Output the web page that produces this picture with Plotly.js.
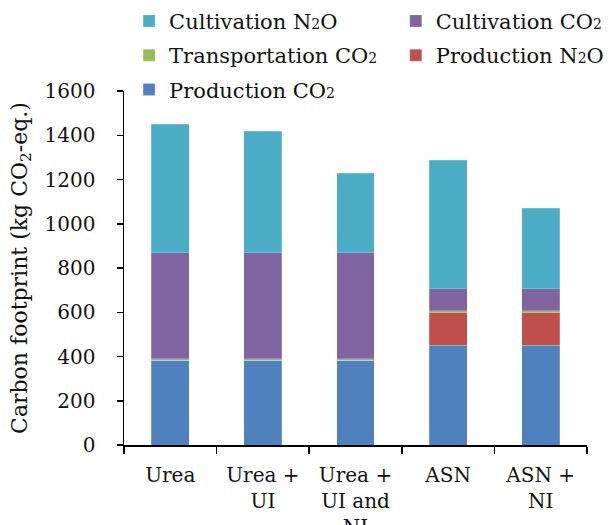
<!DOCTYPE html>
<html>
<head>
<meta charset="utf-8">
<script src="https://cdn.plot.ly/plotly-3.0.1.min.js"></script>
<style>html,body{margin:0;padding:0;background:#fff;}#chart{width:613px;height:525px;}</style>
</head>
<body>
<div id="chart"></div>
<script>
const categories = ["Urea", "Urea +<br>UI", "Urea +<br>UI and<br>NI", "ASN", "ASN +<br>NI"];
const productionCO2 = [382, 382, 382, 450, 450];
const productionN2O = [0, 0, 0, 148, 148];
const transportationCO2 = [8, 8, 8, 8, 8];
const cultivationCO2 = [478, 478, 478, 100, 100];
const cultivationN2O = [582, 551, 361, 582, 365];
const yTicks = [0, 200, 400, 600, 800, 1000, 1200, 1400, 1600];

const sub2 = '<span style="font-size:14px">2</span>';
const FONT = "DejaVu Serif";
const edge = {color: "rgba(255,255,255,0.35)", width: 0.6};

// stack order bottom -> top; rank = legend order (left column / right column)
const series = [
  {name: "Production CO" + sub2, y: productionCO2, color: "#4F81BD", legend: "legend", rank: 3},
  {name: "Production N" + sub2 + "O", y: productionN2O, color: "#C0504D", legend: "legend2", rank: 2},
  {name: "Transportation CO" + sub2, y: transportationCO2, color: "#9BBB59", legend: "legend", rank: 2},
  {name: "Cultivation CO" + sub2, y: cultivationCO2, color: "#8064A2", legend: "legend2", rank: 1},
  {name: "Cultivation N" + sub2 + "O", y: cultivationN2O, color: "#4BACC6", legend: "legend", rank: 1}
];

const data = series.map((s, i) => ({
  type: "bar",
  name: s.name,
  x: categories,
  y: s.y,
  legend: s.legend,
  legendgroup: "g" + i,
  legendrank: s.rank,
  marker: {color: s.color, line: edge},
  hoverinfo: "x+y+name"
}));

const legendBase = {
  orientation: "v",
  traceorder: "grouped",
  tracegroupgap: 4,
  xanchor: "left",
  yanchor: "top",
  font: {family: FONT, size: 21, color: "#111"},
  bgcolor: "rgba(0,0,0,0)"
};

const layout = {
  width: 613, height: 525,
  margin: {l: 124, r: 26, t: 91, b: 80, pad: 0, autoexpand: false},
  paper_bgcolor: "#fff", plot_bgcolor: "#fff",
  barmode: "stack",
  bargap: 0.59,
  font: {family: FONT, size: 20, color: "#111"},
  showlegend: true,
  legend: Object.assign({}, legendBase, {x: 0.011, y: 1.255}),
  legend2: Object.assign({}, legendBase, {x: 0.587, y: 1.255}),
  xaxis: {
    type: "category",
    showline: true, linecolor: "#000", linewidth: 1.5,
    ticks: "outside", tickson: "boundaries", ticklen: 7, tickcolor: "#000", tickwidth: 1.5,
    ticklabelstandoff: 11,
    showgrid: false, zeroline: false,
    tickfont: {family: FONT, size: 20, color: "#111"},
    automargin: false
  },
  yaxis: {
    range: [0, 1600],
    tickvals: yTicks,
    ticktext: yTicks.map(String),
    showline: true, linecolor: "#000", linewidth: 1.5,
    ticks: "outside", ticklen: 6, tickcolor: "#000", tickwidth: 1.5,
    ticklabelstandoff: 17,
    showgrid: false, zeroline: false,
    tickfont: {family: FONT, size: 20, color: "#111"},
    title: {text: "Carbon footprint (kg CO<sub>2</sub>-eq.)", standoff: 11, font: {family: FONT, size: 22, color: "#111"}},
    automargin: false
  }
};

Plotly.newPlot("chart", data, layout, {displayModeBar: false, staticPlot: true});
</script>
</body>
</html>
